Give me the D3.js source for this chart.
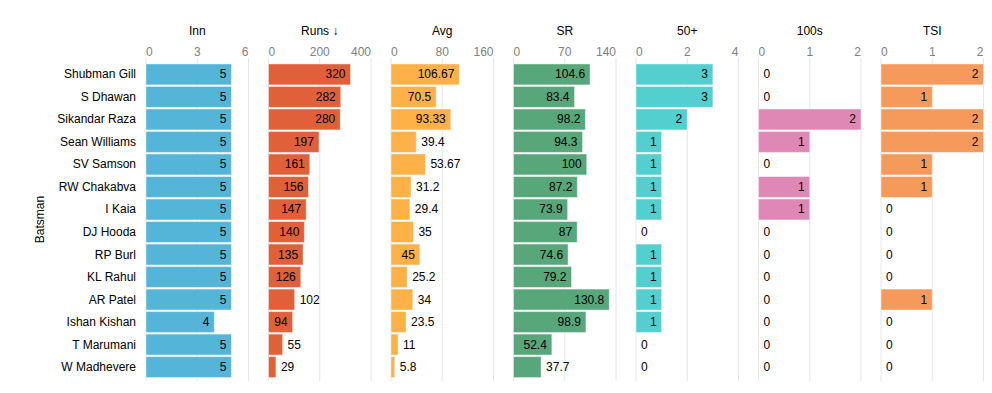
<!DOCTYPE html>
<html>
<head>
<meta charset="utf-8">
<script src="https://cdn.jsdelivr.net/npm/d3@7"></script>
<style>
  html, body { margin: 0; padding: 0; background: #fff; }
  svg { display: block; font-family: "Liberation Sans", Arial, sans-serif; }
</style>
</head>
<body>
<svg id="chart" width="992" height="393"></svg>
<script>
// ---- Data ----
const batsmen = ["Shubman Gill","S Dhawan","Sikandar Raza","Sean Williams","SV Samson","RW Chakabva","I Kaia","DJ Hooda","RP Burl","KL Rahul","AR Patel","Ishan Kishan","T Marumani","W Madhevere"];
const measures = ["Inn","Runs ↓","Avg","SR","50+","100s","TSI"];
const inn   = [5,5,5,5,5,5,5,5,5,5,5,4,5,5];
const runs  = [320,282,280,197,161,156,147,140,135,126,102,94,55,29];
const avg   = [106.67,70.5,93.33,39.4,53.67,31.2,29.4,35,45,25.2,34,23.5,11,5.8];
const sr    = [104.6,83.4,98.2,94.3,100,87.2,73.9,87,74.6,79.2,130.8,98.9,52.4,37.7];
const fifties = [3,3,2,1,1,1,1,0,1,1,1,1,0,0];
const hundreds = [0,0,2,1,0,1,1,0,0,0,0,0,0,0];
const tsi   = [2,1,2,2,1,1,0,0,0,0,1,0,0,0];
const domainMax = [6,400,160,140,4,2,2];
const tickValues = [[0,3,6],[0,200,400],[0,80,160],[0,70,140],[0,2,4],[0,1,2],[0,1,2]];
const colors = ["#55b5d9","#e0603a","#fdb146","#57a77a","#53cfd0","#e088b5","#f59a5a"];
const series = [inn, runs, avg, sr, fifties, hundreds, tsi];

// ---- Layout ----
const svg = d3.select("#chart");
const left0 = 146, panelW = 102.5, gap = 20;
const gridTop = 58, gridBottom = 381;

const y = d3.scaleBand().domain(batsmen).range([63.5, 378]).paddingInner(0.07).paddingOuter(0.02);

// y labels
svg.append("g").selectAll("text").data(batsmen).join("text")
  .attr("x", 136).attr("y", d => y(d) + y.bandwidth()/2)
  .attr("text-anchor", "end").attr("dominant-baseline", "central")
  .attr("font-size", 12).attr("fill", "#000").text(d => d);

svg.append("text")
  .attr("transform", `translate(40,${(gridTop+gridBottom)/2}) rotate(-90)`)
  .attr("text-anchor", "middle").attr("dominant-baseline", "central")
  .attr("font-size", 12).attr("fill", "#000").text("Batsman");

measures.forEach((m, i) => {
  const x0 = left0 + i * (panelW + gap);
  const x = d3.scaleLinear().domain([0, domainMax[i]]).range([x0, x0 + panelW]);
  const g = svg.append("g");
  const ticks = tickValues[i];

  // grid
  g.selectAll("line.grid").data(ticks).join("line")
    .attr("x1", d => x(d)).attr("x2", d => x(d))
    .attr("y1", gridTop).attr("y2", gridBottom)
    .attr("stroke", "#e3e6ea").attr("stroke-width", 1);

  // tick labels
  g.selectAll("text.tick").data(ticks).join("text")
    .attr("x", d => x(d))
    .attr("y", 52)
    .attr("text-anchor", (d, j) => j === 0 ? "start" : (j === ticks.length - 1 ? "end" : "middle"))
    .attr("dominant-baseline", "central")
    .attr("font-size", 12).attr("fill", "#808080")
    .text(d => d);

  // title
  g.append("text").attr("x", x0 + panelW/2).attr("y", 31)
    .attr("text-anchor", "middle").attr("dominant-baseline", "central")
    .attr("font-size", 12).attr("fill", "#000").text(m);

  const vals = series[i];
  // bars
  g.selectAll("rect").data(vals).join("rect")
    .attr("x", x(0))
    .attr("y", (d, k) => y(batsmen[k]))
    .attr("width", d => Math.max(0, x(d) - x(0)))
    .attr("height", y.bandwidth())
    .attr("fill", colors[i])
    .attr("stroke", d => d > 0 ? "#ffffff" : "none")
    .attr("stroke-opacity", 0.45)
    .attr("stroke-width", 1);

  // value labels
  g.selectAll("text.val").data(vals).join("text")
    .attr("class", "val")
    .attr("y", (d, k) => y(batsmen[k]) + y.bandwidth()/2)
    .attr("dominant-baseline", "central")
    .attr("font-size", 12).attr("fill", "#000")
    .text(d => d)
    .each(function(d) {
      const tw = this.getComputedTextLength();
      const bw = x(d) - x(0);
      const t = d3.select(this);
      if (tw + 10 < bw) {
        t.attr("x", x(d) - 5).attr("text-anchor", "end");
      } else {
        t.attr("x", x(d) + 5).attr("text-anchor", "start");
      }
    });
});
</script>
</body>
</html>
